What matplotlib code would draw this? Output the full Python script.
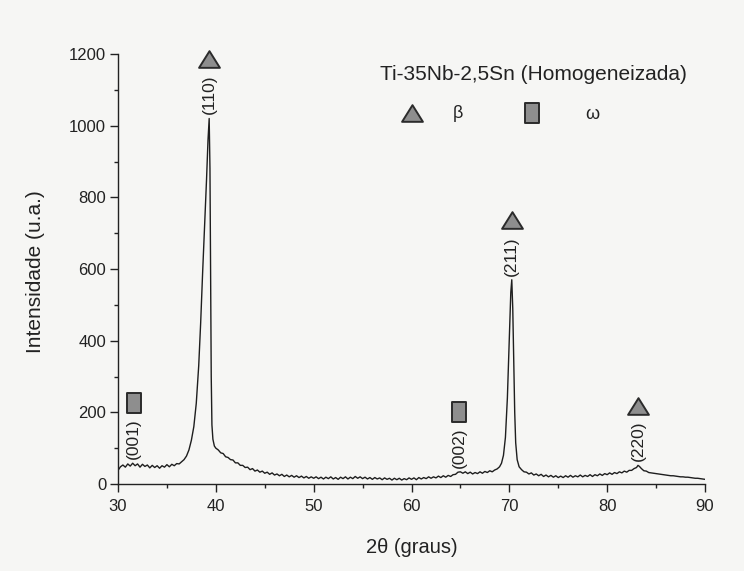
import numpy as np
import matplotlib.pyplot as plt
from matplotlib.path import Path
from matplotlib.transforms import ScaledTranslation

plt.rcParams['font.family'] = ['Liberation Sans', 'DejaVu Sans']

# diffractogram, region by region
tt_start = [30.00, 30.25, 30.50, 30.75, 31.00, 31.25, 31.50, 31.75, 32.00, 32.25,
            32.50, 32.75, 33.00, 33.25, 33.50, 33.75, 34.00, 34.25, 34.50, 34.75,
            35.00, 35.25, 35.50, 35.75, 36.00, 36.25, 36.50, 36.75]
int_start = [38, 48, 53, 47, 56, 50, 58, 51, 56, 47,
             55, 49, 53, 45, 52, 46, 51, 44, 51, 47,
             54, 48, 55, 51, 57, 56, 62, 68]

tt_110 = [37.00, 37.25, 37.50, 37.75, 38.00, 38.25, 38.45, 38.65, 38.85, 39.05,
          39.20, 39.32, 39.40, 39.46, 39.53, 39.60, 39.70, 39.85, 40.00]
int_110 = [78, 95, 122, 160, 225, 330, 450, 590, 720, 850,
           960, 1020, 880, 600, 300, 165, 125, 106, 100]

tt_mid = [40.25, 40.50, 40.75, 41.00, 41.25, 41.50, 41.75, 42.00, 42.25, 42.50,
          42.75, 43.00, 43.25, 43.50, 43.75, 44.00, 44.25, 44.50, 44.75, 45.00,
          45.25, 45.50, 45.75, 46.00, 46.25, 46.50, 46.75, 47.00, 47.25, 47.50,
          47.75, 48.00, 48.25, 48.50, 48.75, 49.00, 49.25, 49.50, 49.75, 50.00,
          50.25, 50.50, 50.75, 51.00, 51.25, 51.50, 51.75, 52.00, 52.25, 52.50,
          52.75, 53.00, 53.25, 53.50, 53.75, 54.00, 54.25, 54.50, 54.75, 55.00,
          55.25, 55.50, 55.75, 56.00, 56.25, 56.50, 56.75, 57.00, 57.25, 57.50,
          57.75, 58.00, 58.25, 58.50, 58.75, 59.00, 59.25, 59.50, 59.75, 60.00,
          60.25, 60.50, 60.75, 61.00, 61.25, 61.50, 61.75, 62.00, 62.25, 62.50,
          62.75, 63.00, 63.25, 63.50, 63.75, 64.00, 64.25, 64.50, 64.75, 65.00,
          65.25, 65.50, 65.75, 66.00, 66.25, 66.50, 66.75, 67.00, 67.25, 67.50,
          67.75, 68.00, 68.25, 68.50]
int_mid = [95, 87, 85, 76, 74, 68, 67, 59, 59, 52,
           52, 46, 47, 40, 43, 36, 39, 33, 36, 30,
           33, 27, 31, 25, 28, 23, 27, 21, 25, 20,
           24, 19, 23, 18, 22, 17, 21, 16, 20, 16,
           20, 15, 19, 14, 19, 15, 20, 14, 18, 13,
           19, 15, 20, 14, 19, 15, 21, 16, 20, 15,
           19, 14, 18, 13, 18, 14, 17, 12, 17, 13,
           16, 11, 16, 12, 16, 11, 15, 12, 17, 13,
           17, 12, 18, 14, 18, 15, 20, 16, 20, 17,
           22, 18, 23, 19, 24, 21, 26, 27, 33, 34,
           30, 34, 29, 33, 28, 32, 29, 34, 30, 35,
           32, 37, 34, 39]

tt_211 = [68.75, 69.00, 69.20, 69.40, 69.60, 69.80, 70.00, 70.15, 70.25, 70.35,
          70.45, 70.55, 70.65, 70.80, 71.00]
int_211 = [42, 48, 58, 80, 130, 240, 410, 535, 570, 490,
           340, 200, 115, 68, 48]

tt_end = [71.25, 71.50, 71.75, 72.00, 72.25, 72.50, 72.75, 73.00, 73.25, 73.50,
          73.75, 74.00, 74.25, 74.50, 74.75, 75.00, 75.25, 75.50, 75.75, 76.00,
          76.25, 76.50, 76.75, 77.00, 77.25, 77.50, 77.75, 78.00, 78.25, 78.50,
          78.75, 79.00, 79.25, 79.50, 79.75, 80.00, 80.25, 80.50, 80.75, 81.00,
          81.25, 81.50, 81.75, 82.00, 82.25, 82.50, 82.75, 83.00, 83.15, 83.30,
          83.50, 83.75, 84.00, 84.25, 84.50, 84.75, 85.00, 85.25, 85.50, 85.75,
          86.00, 86.25, 86.50, 86.75, 87.00, 87.25, 87.50, 87.75, 88.00, 88.25,
          88.50, 88.75, 89.00, 89.25, 89.50, 89.75, 90.00]
int_end = [40, 34, 33, 28, 31, 25, 28, 23, 27, 21,
           25, 20, 24, 19, 23, 18, 22, 18, 23, 19,
           24, 19, 23, 20, 25, 20, 24, 21, 26, 21,
           26, 23, 28, 24, 29, 26, 31, 27, 32, 29,
           34, 31, 36, 33, 38, 38, 43, 46, 52, 49,
           43, 37, 36, 32, 31, 30, 29, 28, 27, 26,
           25, 24, 23, 23, 22, 21, 20, 20, 19, 19,
           18, 17, 16, 16, 15, 14, 13]

# indexed reflections
peak_pos = [31.6, 39.3, 64.9, 70.25, 83.2]
peak_top = [58, 1020, 34, 570, 52]
peak_hkl = ['(001)', '(110)', '(002)', '(211)', '(220)']
peak_phase = ['omega', 'beta', 'omega', 'beta', 'beta']

two_theta = tt_start + tt_110 + tt_mid + tt_211 + tt_end
intensity = int_start + int_110 + int_mid + int_211 + int_end

# marker shapes: squat triangle for beta, upright rectangle for omega
tri = Path([(-1, -0.8), (1, -0.8), (0, 0.8), (-1, -0.8)], closed=True)
rect = Path([(-0.36, -0.5), (0.36, -0.5), (0.36, 0.5), (-0.36, 0.5), (-0.36, -0.5)], closed=True)
shape = {'beta': tri, 'omega': rect}
fill = '#8e8e8e'
edge = '#2b2b2b'
ink = '#222222'

W, H = 744, 571
fig = plt.figure(figsize=(W / 100, H / 100), dpi=100, facecolor='#f6f6f4')
ax = fig.add_axes([118 / W, 1 - 484 / H, 587 / W, 430 / H])
ax.set_facecolor('#f6f6f4')

ax.plot(two_theta, intensity, color='#1e1e1e', lw=1.0)

lift = ScaledTranslation(0, 43 / 72, fig.dpi_scale_trans)
for pos, top, hkl, ph in zip(peak_pos, peak_top, peak_hkl, peak_phase):
    ax.annotate(hkl, (pos, top), xytext=(0, 3), textcoords='offset points',
                rotation=90, ha='center', va='bottom', fontsize=12.5, color=ink)
    ax.plot([pos], [top], marker=shape[ph], markersize=15, color=fill,
            markeredgecolor=edge, markeredgewidth=1.4, linestyle='none',
            transform=ax.transData + lift, clip_on=False)

ax.set_xlim(30, 90)
ax.set_ylim(0, 1200)
ax.set_xticks(np.arange(30, 91, 10))
ax.set_xticks(np.arange(35, 90, 10), minor=True)
ax.set_yticks(np.arange(0, 1201, 200))
ax.set_yticks(np.arange(100, 1200, 200), minor=True)
ax.tick_params(which='major', direction='out', length=5.5, width=1, labelsize=12,
               colors=ink)
ax.tick_params(which='minor', direction='out', length=3, width=1, colors=ink)
ax.tick_params(axis='y', pad=3)
ax.tick_params(axis='x', pad=5)
for s in ['top', 'right']:
    ax.spines[s].set_visible(False)
for s in ['left', 'bottom']:
    ax.spines[s].set_color(ink)
    ax.spines[s].set_linewidth(1)

ax.set_xlabel('2θ (graus)', fontsize=14.5, color=ink)
ax.set_ylabel('Intensidade (u.a.)', fontsize=15, color=ink)
ax.xaxis.set_label_coords(0.5, -0.125)
ax.yaxis.set_label_coords(-0.124, 0.495)

# sample name and phase key
fig.text(380 / W, 1 - 75 / H, 'Ti-35Nb-2,5Sn (Homogeneizada)', fontsize=15,
         ha='left', va='center', color=ink)
ax.plot([412 / W], [1 - 113 / H], marker=tri, markersize=15, color=fill,
        markeredgecolor=edge, markeredgewidth=1.4, transform=fig.transFigure, clip_on=False)
ax.plot([532 / W], [1 - 113 / H], marker=rect, markersize=15, color=fill,
        markeredgecolor=edge, markeredgewidth=1.4, transform=fig.transFigure, clip_on=False)
fig.text(458 / W, 1 - 113 / H, 'β', fontsize=13, ha='center', va='center', color=ink)
fig.text(592 / W, 1 - 115 / H, 'ω', fontsize=13, ha='center', va='center', color=ink)

fig.savefig('out.png', dpi=100, facecolor=fig.get_facecolor())
